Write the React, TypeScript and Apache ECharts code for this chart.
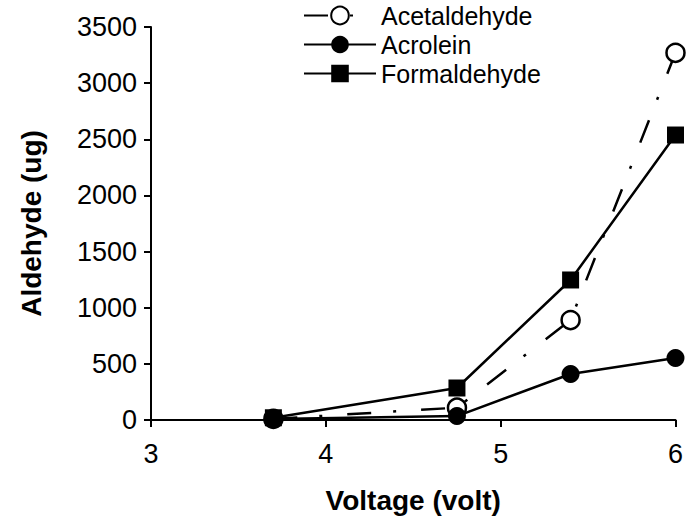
import React, { useEffect, useRef } from "react";
import * as echarts from "echarts";

const voltage = [3.7, 4.75, 5.4, 6.0];
const acetaldehyde = [10, 110, 890, 3270];
const acrolein = [10, 35, 410, 552];
const formaldehyde = [20, 285, 1247, 2538];
const seriesNames = ["Acetaldehyde", "Acrolein", "Formaldehyde"];

const FONT = "Liberation Sans, Arial, sans-serif";

export default function App() {
  const ref = useRef<HTMLDivElement>(null);
  useEffect(() => {
    if (!ref.current) return;
    const chart = echarts.init(ref.current, undefined, { renderer: "svg" });
    const pair = (ys: number[]) => voltage.map((v, i) => [v, ys[i]]);
    chart.setOption({
      animation: false,
      backgroundColor: "#ffffff",
      textStyle: { fontFamily: FONT, color: "#000" },
      grid: { left: 151, right: 8, top: 27, bottom: 105, containLabel: false },
      legend: {
        orient: "vertical",
        left: 298,
        top: -2,
        padding: 5,
        itemWidth: 72,
        itemHeight: 22,
        itemGap: 4,
        data: seriesNames,
        textStyle: { fontFamily: FONT, fontSize: 25, color: "#000" },
      },
      xAxis: {
        type: "value",
        min: 3,
        max: 6,
        interval: 1,
        name: "Voltage (volt)",
        nameLocation: "middle",
        nameGap: 66,
        nameTextStyle: { fontFamily: FONT, fontSize: 28, fontWeight: "bold", color: "#000" },
        axisLine: { show: true, onZero: false, lineStyle: { color: "#000", width: 2 } },
        axisTick: { show: true, length: 7, lineStyle: { color: "#000", width: 2 } },
        axisLabel: { fontFamily: FONT, fontSize: 27, color: "#000", margin: 20, formatter: (v: number) => String(v) },
        splitLine: { show: false },
      },
      yAxis: {
        type: "value",
        min: 0,
        max: 3500,
        interval: 500,
        name: "Aldehyde (ug)",
        nameLocation: "middle",
        nameGap: 106,
        nameTextStyle: { fontFamily: FONT, fontSize: 28, fontWeight: "bold", color: "#000" },
        axisLine: { show: true, lineStyle: { color: "#000", width: 2 } },
        axisTick: { show: true, length: 7, lineStyle: { color: "#000", width: 2 } },
        axisLabel: { fontFamily: FONT, fontSize: 27, color: "#000", margin: 14, formatter: (v: number) => String(v) },
        splitLine: { show: false },
      },
      series: [
        {
          name: seriesNames[0],
          type: "line",
          data: pair(acetaldehyde),
          symbol: "circle",
          symbolSize: 18,
          z: 3,
          lineStyle: { color: "#000", width: 2.5, type: [24, 22, 3, 25] },
          itemStyle: { color: "#fff", borderColor: "#000", borderWidth: 2.5 },
        },
        {
          name: seriesNames[1],
          type: "line",
          data: pair(acrolein),
          symbol: "circle",
          symbolSize: 18,
          z: 4,
          lineStyle: { color: "#000", width: 2.5 },
          itemStyle: { color: "#000" },
        },
        {
          name: seriesNames[2],
          type: "line",
          data: pair(formaldehyde),
          symbol: "rect",
          symbolSize: 17,
          z: 4,
          lineStyle: { color: "#000", width: 2.5 },
          itemStyle: { color: "#000" },
        },
      ],
    });
    return () => chart.dispose();
  }, []);
  return <div ref={ref} style={{ width: 686, height: 525, position: "absolute", left: 0, top: 0 }} />;
}
